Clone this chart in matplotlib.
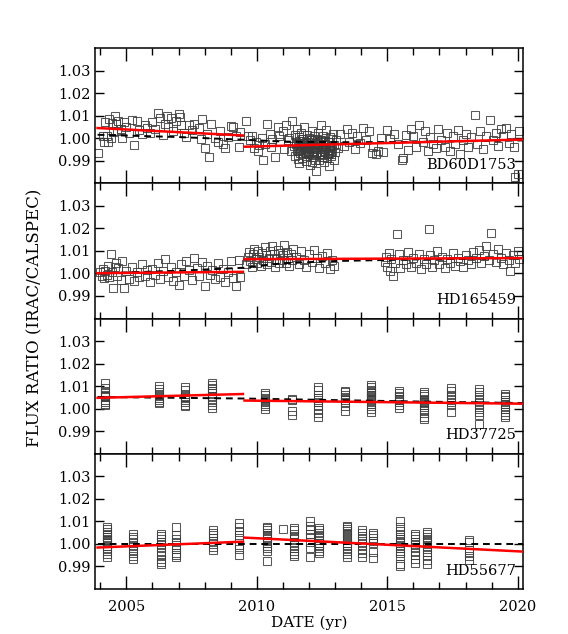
import numpy as np
import matplotlib
matplotlib.use("Agg")
import matplotlib.pyplot as plt
from matplotlib.ticker import MultipleLocator, FixedLocator, FormatStrFormatter

plt.rcParams['font.family'] = ['DejaVu Serif']

# ---------------- data ----------------
star_names = ["BD60D1753", "HD165459", "HD37725", "HD55677"]

# BD60D1753
bd_years = [2003.90, 2004.10, 2004.15, 2004.20, 2004.25, 2004.30, 2004.35, 2004.40, 2004.45, 2004.50,
            2004.55, 2004.60, 2004.65, 2004.70, 2004.80, 2004.85, 2004.90, 2005.00, 2005.10, 2005.20,
            2005.30, 2005.40, 2005.50, 2005.60, 2005.70, 2005.80, 2005.90, 2006.00, 2006.10, 2006.20,
            2006.30, 2006.40, 2006.50, 2006.55, 2006.60, 2006.70, 2006.80, 2006.90, 2007.00, 2007.05,
            2007.10, 2007.20, 2007.30, 2007.40, 2007.50, 2007.60, 2007.80, 2007.85, 2007.90, 2008.00,
            2008.10, 2008.15, 2008.25, 2008.40, 2008.50, 2008.60, 2008.70, 2008.80, 2008.90, 2009.00,
            2009.10, 2009.20, 2009.30, 2009.35,
            2009.60, 2009.65, 2009.75, 2009.80, 2009.90, 2009.95, 2010.05, 2010.10, 2010.20, 2010.25,
            2010.30, 2010.40, 2010.50, 2010.55, 2010.60, 2010.70, 2010.80, 2010.85, 2010.90, 2011.00,
            2011.05, 2011.10, 2011.20, 2011.25, 2011.30, 2011.35,
            2011.42, 2011.45, 2011.48, 2011.50, 2011.53, 2011.55, 2011.58, 2011.60, 2011.62, 2011.65,
            2011.67, 2011.70, 2011.72, 2011.75, 2011.77, 2011.80, 2011.82, 2011.85, 2011.87, 2011.90,
            2011.92, 2011.95, 2011.97, 2012.00, 2012.02, 2012.05, 2012.07, 2012.10, 2012.12, 2012.15,
            2012.17, 2012.20, 2012.22, 2012.25, 2012.27, 2012.30, 2012.32, 2012.35, 2012.37, 2012.40,
            2012.42, 2012.45, 2012.47, 2012.50, 2012.52, 2012.55, 2012.57, 2012.60, 2012.62, 2012.65,
            2012.67, 2012.70, 2012.72, 2012.75, 2012.77, 2012.80, 2012.82, 2012.85, 2012.87, 2012.90,
            2012.92, 2012.95, 2012.97, 2013.00, 2013.05, 2013.10,
            2011.51, 2011.56, 2011.61, 2011.66, 2011.71, 2011.76, 2011.81, 2011.86, 2011.91, 2011.96,
            2012.01, 2012.06, 2012.11, 2012.16, 2012.21, 2012.26, 2012.31, 2012.36, 2012.41, 2012.46,
            2012.51, 2012.56, 2012.61, 2012.66, 2012.71, 2012.76, 2012.81, 2012.86, 2011.58, 2011.73,
            2011.88, 2012.03, 2012.18, 2012.33, 2012.48, 2012.63, 2012.78, 2011.64, 2011.94, 2012.24,
            2012.54, 2012.84, 2011.69, 2011.99, 2012.29, 2012.59, 2012.89, 2012.13, 2012.43, 2012.73,
            2013.20, 2013.35, 2013.45, 2013.55, 2013.65, 2013.75, 2013.85, 2013.95, 2014.05, 2014.20,
            2014.30, 2014.40, 2014.45, 2014.55, 2014.65, 2014.75, 2014.85, 2015.00, 2015.10, 2015.25,
            2015.40, 2015.55, 2015.60, 2015.70, 2015.80, 2015.90, 2016.00, 2016.10, 2016.20, 2016.35,
            2016.45, 2016.55, 2016.65, 2016.75, 2016.85, 2016.95, 2017.05, 2017.20, 2017.30, 2017.40,
            2017.50, 2017.60, 2017.70, 2017.80, 2017.90, 2018.00, 2018.10, 2018.20, 2018.35, 2018.45,
            2018.55, 2018.65, 2018.80, 2018.95, 2019.05, 2019.15, 2019.25, 2019.35, 2019.45, 2019.55,
            2019.65, 2019.75, 2019.85, 2019.90, 2020.00, 2020.05]
bd_ratio = [0.9932, 1.0008, 0.9985, 1.0072, 1.0010, 0.9982, 1.0085, 1.0000, 1.0068, 1.0028,
            1.0098, 1.0062, 1.0030, 1.0075, 1.0040, 1.0002, 1.0070, 1.0050, 1.0025, 1.0080,
            0.9968, 1.0078, 1.0035, 1.0018, 1.0060, 1.0045, 1.0025, 1.0070, 1.0040, 1.0110,
            1.0090, 1.0015, 1.0065, 1.0100, 1.0048, 1.0088, 1.0030, 1.0078, 1.0105, 1.0092,
            1.0058, 1.0022, 1.0005, 1.0058, 1.0038, 1.0062, 1.0045, 0.9995, 1.0085, 0.9955,
            1.0020, 0.9918, 1.0062, 1.0002, 0.9985, 1.0030, 0.9972, 0.9955, 1.0005, 1.0055,
            1.0048, 1.0010, 0.9962, 1.0028,
            1.0075, 1.0008, 0.9990, 1.0010, 0.9955, 0.9985, 0.9945, 0.9970, 1.0000, 0.9905,
            0.9975, 1.0062, 1.0020, 0.9960, 0.9998, 0.9918, 1.0048, 1.0010, 0.9985, 1.0030,
            0.9952, 1.0060, 0.9990, 1.0002, 0.9945, 1.0078,
            0.9965, 1.0012, 0.9920, 0.9985, 0.9948, 1.0040, 0.9972, 0.9890, 1.0005, 0.9958,
            0.9932, 1.0025, 0.9978, 0.9910, 0.9995, 0.9962, 1.0048, 0.9940, 0.9985, 0.9900,
            1.0015, 0.9968, 0.9930, 1.0002, 0.9955, 0.9880, 0.9990, 0.9945, 1.0030, 0.9972,
            0.9915, 1.0008, 0.9960, 0.9935, 0.9855, 0.9998, 0.9950, 1.0022, 0.9905, 0.9975,
            0.9940, 1.0060, 0.9965, 0.9925, 1.0010, 0.9952, 0.9895, 0.9988, 0.9938, 1.0035,
            0.9970, 0.9912, 0.9985, 0.9948, 0.9875, 1.0005, 0.9960, 0.9930, 0.9995, 0.9945,
            1.0018, 0.9905, 0.9968, 0.9938, 0.9990, 0.9958,
            0.9975, 0.9942, 0.9988, 0.9952, 0.9965, 0.9930, 0.9978, 0.9958, 0.9945, 0.9985,
            0.9935, 0.9962, 0.9990, 0.9925, 0.9955, 0.9980, 0.9940, 0.9968, 0.9928, 0.9992,
            0.9950, 0.9918, 0.9975, 0.9960, 0.9935, 0.9982, 0.9948, 0.9965, 0.9908, 0.9998,
            0.9922, 0.9970, 0.9942, 0.9985, 0.9915, 0.9958, 0.9932, 0.9978, 0.9950, 0.9902,
            0.9985, 0.9920, 0.9962, 0.9938, 0.9975, 0.9945, 0.9965, 0.9895, 0.9990, 0.9930,
            1.0018, 0.9965, 1.0040, 0.9985, 1.0025, 0.9950, 1.0010, 0.9978, 1.0045, 0.9990,
            1.0030, 0.9935, 0.9962, 0.9928, 0.9945, 1.0002, 0.9938, 1.0035, 0.9995, 1.0020,
            0.9975, 0.9905, 0.9910, 1.0015, 0.9948, 1.0040, 1.0010, 0.9960, 1.0058, 0.9985,
            1.0030, 0.9945, 1.0005, 0.9975, 0.9955, 1.0040, 0.9990, 0.9960, 1.0025, 0.9945,
            1.0010, 0.9975, 1.0035, 0.9930, 0.9990, 1.0020, 0.9960, 1.0005, 1.0102, 0.9975,
            1.0030, 0.9950, 1.0008, 1.0082, 0.9990, 1.0025, 0.9965, 1.0040, 1.0010, 1.0045,
            0.9978, 1.0020, 0.9960, 0.9828, 0.9840, 1.0030]

# HD165459
hd165_years = [2004.00, 2004.05, 2004.10, 2004.15, 2004.20, 2004.25, 2004.30, 2004.35, 2004.40, 2004.45,
               2004.50, 2004.55, 2004.60, 2004.65, 2004.70, 2004.80, 2004.85, 2004.90, 2005.00, 2005.10,
               2005.20, 2005.30, 2005.40, 2005.50, 2005.60, 2005.70, 2005.80, 2005.90, 2006.00, 2006.10,
               2006.20, 2006.30, 2006.40, 2006.50, 2006.60, 2006.70, 2006.80, 2006.90, 2007.00, 2007.10,
               2007.20, 2007.30, 2007.40, 2007.50, 2007.60, 2007.70, 2007.80, 2007.90, 2008.00, 2008.10,
               2008.20, 2008.30, 2008.40, 2008.50, 2008.60, 2008.70, 2008.80, 2008.90, 2009.00, 2009.10,
               2009.20, 2009.30, 2009.35,
               2009.60, 2009.65, 2009.70, 2009.75, 2009.80, 2009.85, 2009.90, 2009.95, 2010.00, 2010.05,
               2010.10, 2010.15, 2010.20, 2010.25, 2010.30, 2010.35, 2010.40, 2010.45, 2010.50, 2010.55,
               2010.60, 2010.65, 2010.70, 2010.75, 2010.80, 2010.85, 2010.90, 2010.95, 2011.00, 2011.05,
               2011.10, 2011.15, 2011.20, 2011.25, 2011.30, 2011.35, 2011.40, 2011.50, 2011.60, 2011.70,
               2011.80, 2011.90, 2012.00, 2012.10, 2012.20, 2012.30, 2012.40, 2012.50, 2012.60, 2012.70,
               2012.80, 2012.90, 2012.95,
               2014.90, 2014.95, 2015.00, 2015.05, 2015.10, 2015.15, 2015.20, 2015.30, 2015.37, 2015.45,
               2015.50, 2015.60, 2015.70, 2015.80, 2015.90, 2016.00, 2016.10, 2016.20, 2016.30, 2016.40,
               2016.50, 2016.60, 2016.65, 2016.70, 2016.80, 2016.90, 2017.00, 2017.10, 2017.20, 2017.30,
               2017.40, 2017.50, 2017.60, 2017.70, 2017.80, 2017.90, 2018.00, 2018.10, 2018.20, 2018.30,
               2018.40, 2018.50, 2018.60, 2018.70, 2018.80, 2018.90, 2018.97, 2019.05, 2019.15, 2019.25,
               2019.35, 2019.45, 2019.55, 2019.65, 2019.70, 2019.80, 2019.90, 2020.00, 2020.05]
hd165_ratio = [1.0005, 0.9990, 1.0020, 0.9978, 1.0012, 0.9995, 1.0035, 0.9985, 1.0088, 1.0005,
               0.9935, 1.0030, 1.0048, 0.9990, 1.0025, 0.9970, 1.0055, 0.9935, 1.0010, 0.9975,
               1.0030, 0.9965, 1.0005, 0.9985, 1.0040, 0.9990, 1.0015, 0.9960, 1.0020, 0.9995,
               1.0045, 0.9975, 1.0010, 1.0062, 0.9985, 1.0030, 0.9965, 1.0005, 0.9950, 1.0040,
               0.9988, 1.0055, 1.0015, 0.9970, 1.0068, 1.0025, 0.9990, 1.0050, 0.9945, 1.0035,
               0.9995, 1.0015, 0.9975, 1.0045, 0.9985, 1.0020, 0.9960, 1.0005, 1.0055, 0.9978,
               0.9942, 1.0060, 0.9985,
               1.0040, 1.0072, 1.0095, 1.0055, 1.0030, 1.0085, 1.0110, 1.0065, 1.0045, 1.0100,
               1.0075, 1.0035, 1.0090, 1.0060, 1.0115, 1.0080, 1.0040, 1.0068, 1.0098, 1.0050,
               1.0120, 1.0085, 1.0030, 1.0065, 1.0105, 1.0045, 1.0090, 1.0060, 1.0080, 1.0125,
               1.0048, 1.0095, 1.0070, 1.0035, 1.0088, 1.0058, 1.0110, 1.0075, 1.0042, 1.0098,
               1.0060, 1.0030, 1.0085, 1.0050, 1.0102, 1.0068, 1.0025, 1.0078, 1.0045, 1.0090,
               1.0020, 1.0060, 1.0035,
               1.0050, 1.0075, 1.0030, 1.0090, 1.0010, 1.0062, 0.9988, 1.0045, 1.0174, 1.0085,
               1.0025, 1.0060, 1.0040, 1.0095, 1.0030, 1.0070, 1.0045, 1.0088, 1.0020, 1.0065,
               1.0040, 1.0198, 1.0080, 1.0030, 1.0058, 1.0100, 1.0042, 1.0075, 1.0025, 1.0065,
               1.0048, 1.0090, 1.0035, 1.0070, 1.0055, 1.0028, 1.0082, 1.0060, 1.0040, 1.0095,
               1.0068, 1.0105, 1.0045, 1.0078, 1.0120, 1.0060, 1.0178, 1.0085, 1.0050, 1.0110,
               1.0070, 1.0040, 1.0092, 1.0060, 1.0012, 1.0080, 1.0045, 1.0100, 1.0065]

# HD37725 (observations grouped by epoch)
hd377_epochs = [2004.20, 2006.24, 2007.26, 2008.28, 2010.33, 2011.35, 2012.34,
                2013.39, 2014.39, 2015.44, 2016.42, 2017.46, 2018.50, 2019.52]
hd377_ratio = [
    [1.0113, 1.0090, 1.0075, 1.0062, 1.0050, 1.0040, 1.0030, 1.0022, 1.0018, 1.0058, 1.0070],
    [1.0100, 1.0088, 1.0072, 1.0060, 1.0048, 1.0038, 1.0030, 1.0025, 1.0055],
    [1.0095, 1.0082, 1.0065, 1.0050, 1.0040, 1.0028, 1.0018, 1.0010, 1.0058],
    [1.0115, 1.0105, 1.0092, 1.0080, 1.0068, 1.0055, 1.0042, 1.0030, 1.0018, 1.0005, 1.0088],
    [1.0070, 1.0060, 1.0048, 1.0038, 1.0030, 1.0020, 1.0010, 0.9998, 1.0042],
    [1.0044, 1.0040, 0.9990, 0.9972],
    [1.0098, 1.0085, 1.0060, 1.0040, 1.0028, 1.0010, 0.9995, 0.9980, 0.9965, 1.0048],
    [1.0080, 1.0072, 1.0060, 1.0048, 1.0038, 1.0028, 1.0012, 0.9990, 1.0052],
    [1.0103, 1.0095, 1.0085, 1.0075, 1.0068, 1.0060, 1.0052, 1.0045, 1.0038, 1.0030, 1.0022,
     1.0012, 1.0000, 0.9985, 1.0078, 1.0058],
    [1.0078, 1.0068, 1.0058, 1.0050, 1.0040, 1.0030, 1.0018, 1.0005, 1.0045],
    [1.0075, 1.0065, 1.0055, 1.0045, 1.0035, 1.0025, 1.0018, 1.0008, 0.9995, 0.9980, 0.9962,
     0.9955, 1.0040, 1.0030],
    [1.0092, 1.0078, 1.0062, 1.0050, 1.0040, 1.0028, 1.0015, 0.9985],
    [1.0088, 1.0075, 1.0060, 1.0045, 1.0030, 1.0015, 1.0000, 0.9985, 0.9970, 0.9930],
    [1.0065, 1.0058, 1.0050, 1.0040, 1.0030, 1.0022, 1.0012, 1.0000, 0.9985, 0.9970, 0.9962],
]

# HD55677 (observations grouped by epoch)
hd556_epochs = [2004.26, 2005.26, 2006.33, 2006.90, 2008.34, 2009.33, 2010.39, 2011.00,
                2011.41, 2012.02, 2012.40, 2013.45, 2014.02, 2014.47, 2015.50, 2016.07,
                2016.52, 2018.14]
hd556_ratio = [
    [1.0075, 1.0065, 1.0052, 1.0042, 1.0032, 1.0022, 1.0012, 1.0002, 0.9992, 0.9980, 0.9968,
     0.9955, 0.9942, 1.0038, 1.0018],
    [1.0044, 1.0030, 1.0020, 1.0005, 0.9990, 0.9975, 0.9960, 0.9945, 0.9934],
    [1.0044, 1.0035, 1.0022, 1.0008, 0.9995, 0.9980, 0.9965, 0.9950, 0.9935, 0.9920, 0.9910],
    [1.0076, 1.0040, 1.0020, 1.0008, 0.9995, 0.9978, 0.9960, 0.9950, 0.9940],
    [1.0060, 1.0050, 1.0038, 1.0025, 1.0012, 1.0000, 0.9988, 0.9975],
    [1.0091, 1.0075, 1.0055, 1.0040, 1.0025, 0.9995, 0.9978, 0.9950],
    [1.0076, 1.0070, 1.0060, 1.0050, 1.0040, 1.0032, 1.0022, 1.0012, 1.0002, 0.9992, 0.9980,
     0.9968, 0.9925],
    [1.0064],
    [1.0070, 1.0060, 1.0045, 1.0032, 1.0020, 1.0008, 0.9995, 0.9982, 0.9968, 0.9955, 0.9945],
    [1.0101, 1.0078, 1.0060, 1.0045, 1.0030, 1.0010, 0.9982, 0.9944],
    [1.0072, 1.0062, 1.0050, 1.0040, 1.0030, 1.0018, 1.0005, 0.9992, 0.9980, 0.9968, 0.9958],
    [1.0080, 1.0074, 1.0066, 1.0058, 1.0050, 1.0042, 1.0034, 1.0026, 1.0016, 1.0005, 0.9995,
     0.9982, 0.9968, 0.9955, 0.9944],
    [1.0063, 1.0050, 1.0035, 1.0020, 1.0005, 0.9990, 0.9975, 0.9958, 0.9944],
    [1.0050, 1.0040, 1.0028, 1.0015, 1.0002, 0.9962, 0.9937],
    [1.0101, 1.0075, 1.0058, 1.0045, 1.0032, 1.0022, 1.0012, 1.0002, 0.9992, 0.9982, 0.9970,
     0.9958, 0.9945, 0.9910, 0.9901],
    [1.0044, 1.0035, 1.0022, 1.0008, 0.9995, 0.9980, 0.9965, 0.9950, 0.9935, 0.9915],
    [1.0054, 1.0042, 1.0032, 1.0022, 1.0012, 1.0002, 0.9990, 0.9978, 0.9965, 0.9950, 0.9930,
     0.9910],
    [1.0016, 1.0008, 0.9975, 0.9960, 0.9945, 0.9928],
]

# red linear fits: two segments per star
fit_years = [[2003.9, 2009.47], [2009.53, 2020.2]]
bd_fit = [[1.0045, 1.0012], [0.9962, 0.9994]]
hd165_fit = [[1.0001, 1.0007], [1.0063, 1.0068]]
hd377_fit = [[1.0048, 1.0065], [1.0036, 1.0022]]
hd556_fit = [[0.9984, 1.0010], [1.0028, 0.9966]]

# black dashed curves
dash_years = [2003.9, 2007.0, 2009.5, 2011.0, 2013.0, 2016.0, 2020.2]
bd_dash = [1.0015, 1.0005, 0.9993, 0.9985, 0.9982, 0.9983, 0.9990]
hd165_dash = [1.0000, 1.0012, 1.0025, 1.0045, 1.0055, 1.0062, 1.0068]
hd377_dash = [1.0052, 1.0048, 1.0045, 1.0042, 1.0038, 1.0032, 1.0025]
hd556_dash = [1.0000, 1.0000, 1.0000, 1.0000, 1.0000, 1.0000, 1.0000]

y_ticks = [0.99, 1.00, 1.01, 1.02, 1.03]
x_ticks = [2005, 2010, 2015, 2020]

# ---------------- figure ----------------
def expand(epochs, groups):
    xs, ys = [], []
    for e, g in zip(epochs, groups):
        xs.extend([e] * len(g))
        ys.extend(g)
    return xs, ys

p3x, p3y = expand(hd377_epochs, hd377_ratio)
p4x, p4y = expand(hd556_epochs, hd556_ratio)

panels = [
    (bd_years, bd_ratio, bd_fit, bd_dash),
    (hd165_years, hd165_ratio, hd165_fit, hd165_dash),
    (p3x, p3y, hd377_fit, hd377_dash),
    (p4x, p4y, hd556_fit, hd556_dash),
]

fig = plt.figure(figsize=(5.68, 6.34), dpi=100)
left, right, top, bottom = 95 / 568, 523 / 568, 1 - 48 / 634, 1 - 589 / 634
h = (top - bottom) / 4
axes = []
for i, (xs, ys, fit, dash) in enumerate(panels):
    ax = fig.add_axes([left, top - (i + 1) * h, right - left, h])
    axes.append(ax)
    ax.plot(xs, ys, linestyle='none', marker='s', markersize=5.4,
            markerfacecolor='none', markeredgecolor='#3c3c3c', markeredgewidth=0.75, alpha=0.85)
    ax.plot(dash_years, dash, color='black', linestyle=(0, (3.5, 2.5)), linewidth=1.4, zorder=3)
    for seg_x, seg_y in zip(fit_years, fit):
        ax.plot(seg_x, seg_y, color='red', linewidth=1.8, zorder=4)
    ax.set_xlim(2003.8, 2020.2)
    ax.set_ylim(0.98, 1.04)
    ax.yaxis.set_major_locator(FixedLocator(y_ticks))
    ax.xaxis.set_major_locator(FixedLocator(x_ticks))
    ax.xaxis.set_minor_locator(MultipleLocator(1))
    ax.tick_params(axis='both', which='both', direction='in', top=True, right=True, width=1.0)
    ax.tick_params(axis='x', which='major', length=9.5, pad=8, labelsize=10.5)
    ax.tick_params(axis='x', which='minor', length=5)
    ax.tick_params(axis='y', which='major', length=6.5, pad=3, labelsize=10.5)
    ax.yaxis.set_major_formatter(FormatStrFormatter('%.2f'))
    for s in ax.spines.values():
        s.set_linewidth(1.1)
    if i < 3:
        ax.tick_params(axis='x', labelbottom=False)
    ax.text(0.985, 0.135, star_names[i], transform=ax.transAxes, ha='right', va='center',
            fontsize=10.5)

axes[-1].set_xlabel('DATE (yr)', fontsize=11, labelpad=1)
fig.text(35 / 568, 1 - 318 / 634, 'FLUX RATIO (IRAC/CALSPEC)', rotation=90,
         ha='center', va='center', fontsize=12)

fig.savefig('out.png', dpi=100)
